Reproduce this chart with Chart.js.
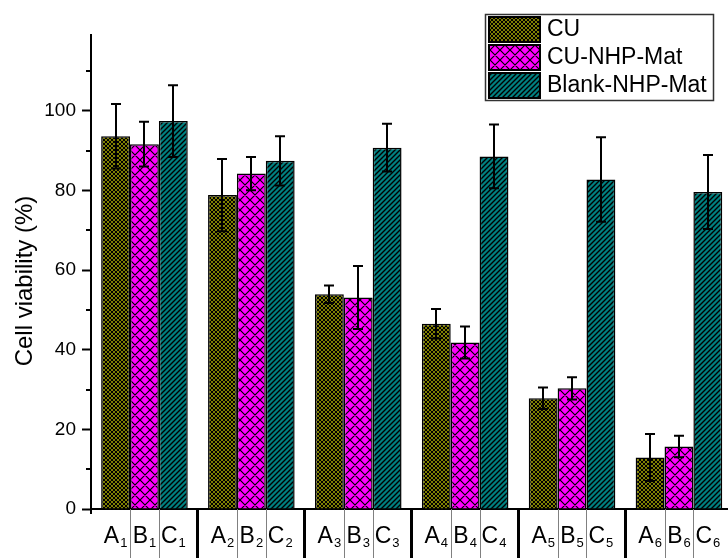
<!DOCTYPE html>
<html><head><meta charset="utf-8">
<script src="https://cdn.jsdelivr.net/npm/chart.js@4.4.1/dist/chart.umd.min.js"></script>
<style>
html,body{margin:0;padding:0;overflow:hidden;background:#fff;width:728px;height:558px}
#wrap{width:760px;height:558px}
</style></head>
<body><div id="wrap"><canvas id="c" width="760" height="558"></canvas></div>
<script>
// ---- data ----
const groupIndex = ['1','2','3','4','5','6'];
const barLetters = ['A','B','C'];
const seriesNames = ['CU','CU-NHP-Mat','Blank-NHP-Mat'];
const cuValues = [93.6, 78.8, 53.9, 46.5, 27.8, 12.9];
const cuErrors = [8.1, 9.1, 2.2, 3.7, 2.7, 5.9];
const cuNhpValues = [91.6, 84.2, 53.1, 41.8, 30.3, 15.7];
const cuNhpErrors = [5.6, 4.2, 7.9, 4.0, 2.8, 2.7];
const blankValues = [97.4, 87.4, 90.7, 88.5, 82.7, 79.6];
const blankErrors = [9.0, 6.2, 6.0, 8.0, 10.6, 9.3];
const yMajorStep = 20;
const yMinorTicks = [10, 30, 50, 70, 90, 110];
const yTitle = 'Cell viability (%)';

const FONT = "'Liberation Sans', Arial, sans-serif";

function makePattern(kind){
  const p = kind === 'olive' ? 4 : (kind === 'magenta' ? 10 : 5);
  const c = document.createElement('canvas'); c.width = p; c.height = p;
  const g = c.getContext('2d');
  g.fillStyle = kind === 'olive' ? '#808000' : (kind === 'magenta' ? '#ff00ff' : '#008080');
  g.fillRect(0,0,p,p);
  g.strokeStyle = '#000';
  g.lineWidth = kind === 'olive' ? 1 : (kind === 'magenta' ? 1.2 : 1.4);
  g.beginPath();
  g.moveTo(-1,p+1); g.lineTo(p+1,-1);
  g.moveTo(-1,1); g.lineTo(1,-1);
  g.moveTo(p-1,p+1); g.lineTo(p+1,p-1);
  if (kind !== 'teal'){
    g.moveTo(-1,-1); g.lineTo(p+1,p+1);
    g.moveTo(p-1,-1); g.lineTo(p+1,1);
    g.moveTo(-1,p-1); g.lineTo(1,p+1);
  }
  g.stroke();
  return g.createPattern(c,'repeat');
}

const ctx0 = document.getElementById('c').getContext('2d');
const patterns = [makePattern('olive'), makePattern('magenta'), makePattern('teal')];
const errorSets = [cuErrors, cuNhpErrors, blankErrors];

const deco = {
  id: 'deco',
  afterDatasetsDraw(chart){
    const ctx = chart.ctx, ys = chart.scales.y;
    ctx.save();
    ctx.strokeStyle = '#000'; ctx.lineWidth = 2;
    errorSets.forEach((errs, di) => {
      const meta = chart.getDatasetMeta(di);
      meta.data.forEach((bar, j) => {
        const v = chart.data.datasets[di].data[j];
        const yt = ys.getPixelForValue(v + errs[j]);
        const yb = ys.getPixelForValue(v - errs[j]);
        const x = Math.round(bar.x);
        ctx.beginPath();
        ctx.moveTo(x, yt); ctx.lineTo(x, yb);
        ctx.moveTo(x-5, yt); ctx.lineTo(x+5, yt);
        ctx.moveTo(x-5, yb); ctx.lineTo(x+5, yb);
        ctx.stroke();
      });
    });
    ctx.restore();
  },
  afterDraw(chart){
    const ctx = chart.ctx, ys = chart.scales.y, xs = chart.scales.x;
    const area = chart.chartArea;
    ctx.save();
    ctx.strokeStyle = '#000'; ctx.lineWidth = 2;
    yMinorTicks.forEach(v => {
      const py = Math.round(ys.getPixelForValue(v));
      ctx.beginPath(); ctx.moveTo(area.left - 5, py); ctx.lineTo(area.left, py); ctx.stroke();
    });
    ctx.beginPath(); ctx.moveTo(area.left, area.bottom); ctx.lineTo(area.left, area.bottom + 5); ctx.stroke();

    const metaA = chart.getDatasetMeta(0), metaB = chart.getDatasetMeta(1);
    ctx.strokeStyle = '#808080'; ctx.lineWidth = 1;
    groupIndex.forEach((g, j) => {
      [metaA.data[j], metaB.data[j]].forEach(bar => {
        const x = Math.round(bar.x + bar.width/2) + 0.5;
        ctx.beginPath(); ctx.moveTo(x, area.bottom); ctx.lineTo(x, 558); ctx.stroke();
      });
    });
    ctx.strokeStyle = '#000'; ctx.lineWidth = 3;
    for (let j = 0; j < groupIndex.length - 1; j++){
      const x = Math.round((xs.getPixelForValue(j) + xs.getPixelForValue(j+1))/2) - 0.5;
      ctx.beginPath(); ctx.moveTo(x, area.bottom); ctx.lineTo(x, 558); ctx.stroke();
    }

    ctx.fillStyle = '#000'; ctx.textBaseline = 'alphabetic'; ctx.textAlign = 'left';
    barLetters.forEach((L, di) => {
      const meta = chart.getDatasetMeta(di);
      meta.data.forEach((bar, j) => {
        ctx.font = '23px ' + FONT;
        const wl = ctx.measureText(L).width;
        ctx.font = '13px ' + FONT;
        const ws = ctx.measureText(groupIndex[j]).width;
        const x0 = bar.x - (wl + ws + 1)/2;
        ctx.font = '23px ' + FONT;
        ctx.fillText(L, x0, 543);
        ctx.font = '13px ' + FONT;
        ctx.fillText(groupIndex[j], x0 + wl + 1, 547);
      });
    });

    ctx.save();
    ctx.translate(25, 281);
    ctx.rotate(-Math.PI/2);
    ctx.font = '24px ' + FONT;
    ctx.textAlign = 'center'; ctx.textBaseline = 'middle';
    ctx.fillText(yTitle, 0, 0);
    ctx.restore();

    ctx.fillStyle = '#fff';
    ctx.fillRect(485, 14, 228, 86);
    ctx.strokeStyle = '#333'; ctx.lineWidth = 1.5;
    ctx.strokeRect(485.5, 14.5, 228, 86);
    const rowTops = [17, 45, 73];
    chart.data.datasets.forEach((ds, i) => {
      const t = rowTops[i];
      ctx.fillStyle = ds.backgroundColor;
      ctx.fillRect(489, t, 51, 25);
      ctx.strokeStyle = '#000'; ctx.lineWidth = 2;
      ctx.strokeRect(489, t, 51, 25);
      ctx.fillStyle = '#000';
      ctx.font = '23px ' + FONT;
      ctx.textAlign = 'left'; ctx.textBaseline = 'middle';
      ctx.fillText(ds.label, 547, t + 13);
    });
    ctx.restore();
  }
};

new Chart(ctx0, {
  type: 'bar',
  data: {
    labels: groupIndex,
    datasets: [
      {label: seriesNames[0], data: cuValues, backgroundColor: patterns[0], borderColor: '#000', borderWidth: 1.5},
      {label: seriesNames[1], data: cuNhpValues, backgroundColor: patterns[1], borderColor: '#000', borderWidth: 1.5},
      {label: seriesNames[2], data: blankValues, backgroundColor: patterns[2], borderColor: '#000', borderWidth: 1.5}
    ]
  },
  options: {
    responsive: false,
    animation: false,
    devicePixelRatio: 1,
    layout: {padding: {left: 0, top: 35, right: 27.6, bottom: 0}},
    datasets: {bar: {categoryPercentage: 0.81, barPercentage: 1.0}},
    plugins: {legend: {display: false}, tooltip: {enabled: false}, title: {display: false}},
    scales: {
      x: {
        type: 'category', offset: true,
        afterFit(s){ s.height = 49; },
        ticks: {display: false},
        grid: {display: false, drawTicks: false},
        border: {display: true, color: '#000', width: 2}
      },
      y: {
        min: 0, max: 119,
        afterFit(s){ s.width = 91; },
        ticks: {stepSize: yMajorStep, includeBounds: false, padding: 6, color: '#000', font: {family: FONT, size: 19}},
        grid: {drawOnChartArea: false, drawTicks: true, tickLength: 9, tickWidth: 2, tickColor: '#000'},
        border: {display: true, color: '#000', width: 2}
      }
    }
  },
  plugins: [deco]
});
</script>
</body></html>
